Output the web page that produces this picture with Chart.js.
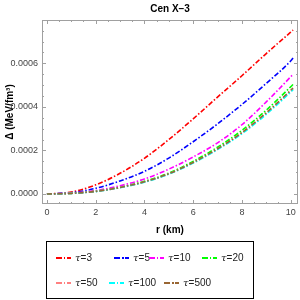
<!DOCTYPE html>
<html>
<head>
<meta charset="utf-8">
<script src="https://cdn.jsdelivr.net/npm/chart.js@4"></script>
<style>
  body { margin: 0; background: #fff; }
  #wrap { position: relative; width: 300px; height: 300px; font-family: "Liberation Sans", Arial, sans-serif; }
  #legend { position: absolute; left: 46px; top: 241px; width: 206px; height: 56px; border: 1.5px solid #000; }
  .item { position: absolute; display: flex; align-items: center; font-size: 10px; color: #222; white-space: nowrap; }
  .item i { font-family: "DejaVu Serif", serif; font-size: 10px; }
  .swatch { width: 15px; height: 2px; margin-right: 4px; }
</style>
</head>
<body>
<div id="wrap">
  <canvas id="chart" width="300" height="300"></canvas>
  <div id="legend"></div>
</div>
<script>
// r (km)
const radius = [0, 1, 2, 3, 4, 5, 6, 7, 8, 9, 10, 10.1];

// Δ (MeV/fm^3) for each τ
const tau3 = [0, 0.000009, 0.000042, 0.000095, 0.000164, 0.00025, 0.000345, 0.000445, 0.000543, 0.000645, 0.000743, 0.000753];
const tau5 = [0, 0.000006, 0.000026, 0.00006, 0.000104, 0.000165, 0.00024, 0.000322, 0.000411, 0.000508, 0.000611, 0.000625];
const tau10 = [0, 0.000004, 0.000016, 0.000038, 0.000069, 0.000114, 0.00017, 0.000235, 0.000318, 0.000423, 0.000538, 0.00055];
const tau20 = [0, 0.000003, 0.000013, 0.000031, 0.000058, 0.000096, 0.00015, 0.000215, 0.000292, 0.000385, 0.000492, 0.000503];
const tau50 = [0, 0.000003, 0.000012, 0.00003, 0.000055, 0.000092, 0.000144, 0.000206, 0.00028, 0.00037, 0.000472, 0.000483];
const tau100 = [0, 0.000003, 0.000011, 0.000029, 0.000054, 0.000091, 0.000142, 0.000204, 0.000277, 0.000366, 0.000468, 0.000479];
const tau500 = [0, 0.000003, 0.000012, 0.00003, 0.000056, 0.000093, 0.000145, 0.000208, 0.000282, 0.000373, 0.000476, 0.000487];

const labels = ["τ=3", "τ=5", "τ=10", "τ=20", "τ=50", "τ=100", "τ=500"];
const colors = ["#ff0000", "#0000ff", "#ff00ff", "#00ff00", "#ff8080", "#00ffff", "#996633"];
const series = [tau3, tau5, tau10, tau20, tau50, tau100, tau500];

const xTicks = [0, 2, 4, 6, 8, 10];
const yTicks = [0, 0.0002, 0.0004, 0.0006];

// legend placement (left px of each item) in two rows
const legendRows = [[0, 1, 2, 3], [4, 5, 6]];
const legendLeft = [[9, 67, 102, 155], [9, 62, 117]];

const datasets = series.map((vals, i) => ({
  label: labels[i],
  data: radius.map((r, k) => ({ x: r, y: vals[k] })),
  borderColor: colors[i],
  borderWidth: 1.6,
  borderDash: [5, 2, 1.5, 2],
  pointRadius: 0,
  cubicInterpolationMode: "monotone",
  fill: false,
  order: series.length - i,
}));

// mathematica style frame with inward ticks
const frameTicks = {
  id: "frameTicks",
  afterDatasetsDraw(chart) {
    const { ctx, chartArea: a } = chart;
    const x = chart.scales.x;
    const y = chart.scales.y;
    ctx.save();
    ctx.strokeStyle = "#a0a0a0";
    ctx.lineWidth = 1;
    ctx.strokeRect(a.left + 0.5, a.top + 0.5, a.right - a.left - 1, a.bottom - a.top - 1);
    ctx.beginPath();
    for (let i = 0; i <= 20; i++) {
      const px = Math.round(x.getPixelForValue(i * 0.5)) + 0.5;
      const len = i % 4 === 0 ? 4 : 2;
      ctx.moveTo(px, a.bottom); ctx.lineTo(px, a.bottom - len);
      ctx.moveTo(px, a.top); ctx.lineTo(px, a.top + len);
    }
    for (let i = 0; i <= 15; i++) {
      const py = Math.round(y.getPixelForValue(i * 0.00005)) + 0.5;
      const len = i % 4 === 0 ? 4 : 2;
      ctx.moveTo(a.left, py); ctx.lineTo(a.left + len, py);
      ctx.moveTo(a.right, py); ctx.lineTo(a.right - len, py);
    }
    ctx.stroke();
    ctx.restore();
  },
};

new Chart(document.getElementById("chart"), {
  type: "line",
  data: { datasets },
  options: {
    responsive: false,
    animation: false,
    devicePixelRatio: 1,
    layout: { padding: { left: 0, right: 2, top: 0, bottom: 64 } },
    plugins: {
      legend: { display: false },
      tooltip: { enabled: false },
      title: {
        display: true,
        text: "Cen X–3",
        fullSize: false,
        color: "#000",
        font: { family: "Liberation Sans", size: 10, weight: "bold" },
        padding: { top: 3, bottom: 5 },
      },
    },
    scales: {
      x: {
        type: "linear",
        min: -0.202,
        max: 10.302,
        afterBuildTicks: (s) => { s.ticks = xTicks.map((v) => ({ value: v })); },
        afterFit: (s) => { s.height = 32; },
        grid: { display: false, drawTicks: false },
        border: { display: false },
        ticks: { color: "#444", padding: 3, font: { family: "Liberation Sans", size: 9 } },
        title: {
          display: true,
          text: "r (km)",
          color: "#000",
          font: { family: "Liberation Sans", size: 10, weight: "bold" },
          padding: 0,
        },
      },
      y: {
        type: "linear",
        min: -0.0000459,
        max: 0.000799,
        afterBuildTicks: (s) => { s.ticks = yTicks.map((v) => ({ value: v })); },
        afterFit: (s) => { s.width = 42; },
        grid: { display: false, drawTicks: false },
        border: { display: false },
        ticks: {
          color: "#444",
          padding: 4,
          font: { family: "Liberation Sans", size: 9 },
          callback: (v) => v.toFixed(4),
        },
        title: {
          display: true,
          text: "Δ (MeV/fm³)",
          color: "#000",
          font: { family: "Liberation Sans", size: 10, weight: "bold" },
          padding: 4,
        },
      },
    },
  },
  plugins: [frameTicks],
});

// legend box
const legend = document.getElementById("legend");
legendRows.forEach((row, r) => {
  row.forEach((idx, k) => {
    const el = document.createElement("div");
    el.className = "item";
    el.style.left = legendLeft[r][k] + "px";
    el.style.top = (r === 0 ? 10 : 35) + "px";
    const c = colors[idx];
    el.innerHTML =
      '<span class="swatch" style="background: linear-gradient(to right, ' + c + ' 0 6px, transparent 6px 8px, ' + c + ' 8px 9.5px, transparent 9.5px 11px, ' + c + ' 11px 15px)"></span>' +
      "<span><i>τ</i>=" + labels[idx].slice(2) + "</span>";
    legend.appendChild(el);
  });
});
</script>
</body>
</html>
